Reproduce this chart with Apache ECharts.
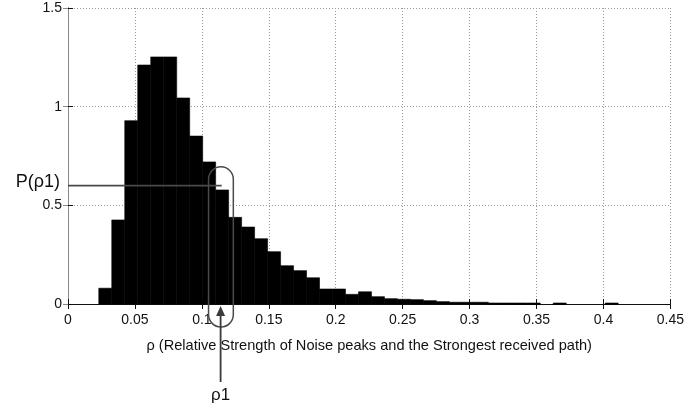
<!DOCTYPE html>
<html>
<head>
<meta charset="utf-8">
<script src="https://cdn.jsdelivr.net/npm/echarts@6/dist/echarts.min.js"></script>
<style>
  html, body { margin: 0; padding: 0; background: #fff; }
  #chart { width: 687px; height: 411px; }
</style>
</head>
<body>
<div id="chart"></div>
<script>
// Histogram of rho: uniform bins, first left edge and bin width
const binFirstEdge = 0.023;
const binWidth = 0.0097;
// Normalised frequency of each bin (40 bins)
const binHeights = [
  0.080, 0.426, 0.929, 1.211, 1.252, 1.252, 1.044, 0.851, 0.720, 0.578,
  0.439, 0.390, 0.331, 0.265, 0.194, 0.169, 0.133, 0.076, 0.076, 0.049,
  0.062, 0.037, 0.027, 0.024, 0.022, 0.017, 0.012, 0.009, 0.009, 0.009,
  0.005, 0.005, 0.005, 0.005, 0.000, 0.005, 0.000, 0.000, 0.000, 0.005
];
// Axis ticks
const xTicks = [0, 0.05, 0.1, 0.15, 0.2, 0.25, 0.3, 0.35, 0.4, 0.45];
const yTicks = [0, 0.5, 1, 1.5];
// Marked operating point
const rho1 = 0.114;
const pRho1 = 0.6;

const bins = binHeights.map((h, i) => [
  binFirstEdge + i * binWidth,
  binFirstEdge + (i + 1) * binWidth,
  h
]);

const FONT = '"Liberation Sans", Arial, sans-serif';
const chart = echarts.init(document.getElementById('chart'), null, { renderer: 'canvas' });

const grid = { left: 68, right: 15, top: 8, bottom: 107 };
const gridLine = { show: true, lineStyle: { color: '#9a9a9a', type: [1, 2], width: 1 } };

chart.setOption({
  animation: false,
  backgroundColor: '#fff',
  grid: grid,
  xAxis: [{
    type: 'value',
    min: xTicks[0], max: xTicks[xTicks.length - 1], interval: 0.05,
    axisLine: { show: true, lineStyle: { color: '#111', width: 1 } },
    axisTick: { show: true, inside: true, length: 5, lineStyle: { color: '#111' } },
    splitLine: gridLine,
    axisLabel: { color: '#111', fontFamily: FONT, fontSize: 14, margin: 9,
      formatter: v => String(+v.toFixed(2)) },
    name: 'ρ (Relative Strength of Noise peaks and the Strongest received path)',
    nameLocation: 'middle', nameGap: 34,
    nameTextStyle: { color: '#111', fontFamily: FONT, fontSize: 14.6 }
  }, {
    type: 'value', position: 'top',
    min: xTicks[0], max: xTicks[xTicks.length - 1], interval: 0.05,
    axisLine: { show: true, lineStyle: { color: '#111', width: 1 } },
    axisTick: { show: true, inside: true, length: 5, lineStyle: { color: '#111' } },
    axisLabel: { show: false }, splitLine: { show: false }
  }],
  yAxis: [{
    type: 'value',
    min: yTicks[0], max: yTicks[yTicks.length - 1], interval: 0.5,
    axisLine: { show: true, lineStyle: { color: '#111', width: 1 } },
    axisTick: { show: true, inside: true, length: 5, lineStyle: { color: '#111' } },
    splitLine: gridLine,
    axisLabel: { color: '#111', fontFamily: FONT, fontSize: 14, margin: 6 }
  }, {
    type: 'value', position: 'right',
    min: yTicks[0], max: yTicks[yTicks.length - 1], interval: 0.5,
    axisLine: { show: true, lineStyle: { color: '#8a8a8a', width: 1 } },
    axisTick: { show: true, inside: true, length: 5, lineStyle: { color: '#8a8a8a' } },
    axisLabel: { show: false }, splitLine: { show: false }
  }],
  series: [{
    type: 'custom',
    xAxisIndex: 0, yAxisIndex: 0,
    encode: { x: [0, 1], y: 2 },
    data: bins,
    z: 5,
    renderItem: function (params, api) {
      const h = api.value(2);
      if (h <= 0) return null;
      const topLeft = api.coord([api.value(0), h]);
      const bottomRight = api.coord([api.value(1), 0]);
      return {
        type: 'rect',
        shape: {
          x: topLeft[0], y: topLeft[1],
          width: bottomRight[0] - topLeft[0],
          height: Math.max(1.5, bottomRight[1] - topLeft[1])
        },
        style: { fill: '#000', stroke: '#000', lineWidth: 0.6 }
      };
    }
  }]
});

// Annotation: P(rho1) level line, the ring around the rho1 bin, and the rho1 arrow
function px(x, y) { return chart.convertToPixel({ gridIndex: 0 }, [x, y]); }
const origin = px(0, 0);
const levelEnd = px(rho1 + 0.0008, pRho1);
const axisY = origin[1];
const rhoX = px(rho1, 0)[0];
const ringTL = px(0.105, 0.695);
const ringBR = px(0.1235, 0);
const ringW = ringBR[0] - ringTL[0];
const ringH = (axisY + 23) - ringTL[1];

chart.setOption({
  graphic: [
    {
      type: 'line', z: 20,
      shape: { x1: origin[0], y1: levelEnd[1], x2: levelEnd[0], y2: levelEnd[1] },
      style: { stroke: '#4a4a4a', lineWidth: 1.6 }
    },
    {
      type: 'text', z: 20,
      style: {
        text: 'P(ρ1)', x: origin[0] - 8, y: levelEnd[1] - 4,
        textAlign: 'right', textVerticalAlign: 'middle',
        font: '18px ' + FONT, fill: '#111'
      }
    },
    {
      type: 'rect', z: 20,
      shape: { x: ringTL[0], y: ringTL[1], width: ringW, height: ringH, r: ringW / 2 },
      style: { fill: 'none', stroke: '#4a4a4a', lineWidth: 1.5 }
    },
    {
      type: 'line', z: 20,
      shape: { x1: rhoX, y1: axisY + 78, x2: rhoX, y2: axisY + 10 },
      style: { stroke: '#3a3a3a', lineWidth: 1.8 }
    },
    {
      type: 'polygon', z: 20,
      shape: { points: [[rhoX, axisY + 2], [rhoX - 4.5, axisY + 12], [rhoX + 4.5, axisY + 12]] },
      style: { fill: '#3a3a3a' }
    },
    {
      type: 'text', z: 20,
      style: {
        text: 'ρ1', x: rhoX, y: axisY + 91,
        textAlign: 'center', textVerticalAlign: 'middle',
        font: '17px ' + FONT, fill: '#111'
      }
    }
  ]
});
</script>
</body>
</html>
